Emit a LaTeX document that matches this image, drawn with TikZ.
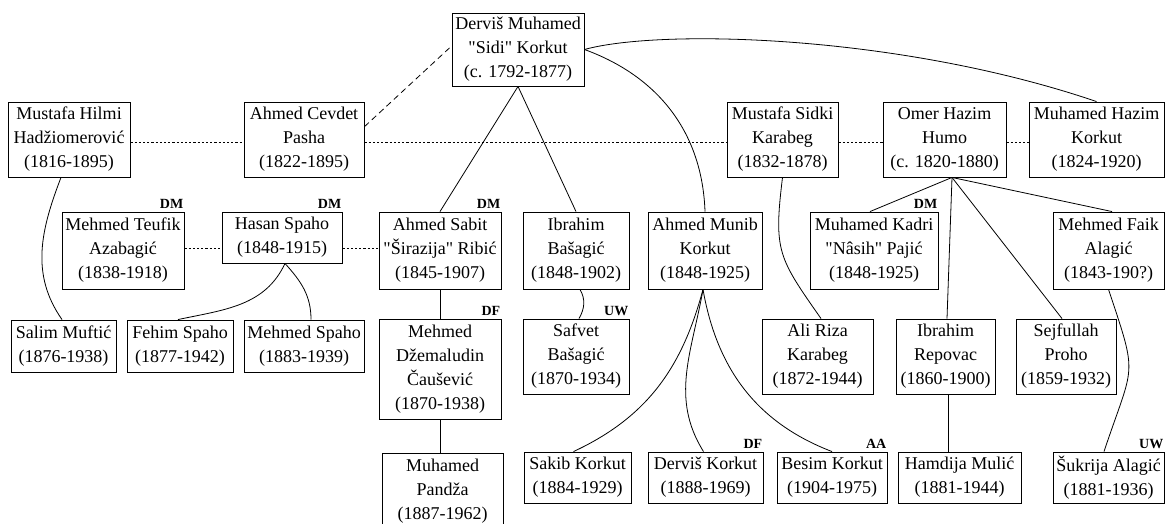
\documentclass[tikz,border=0pt]{standalone}
\usepackage{fontspec}
\setmainfont{Liberation Serif}[Ligatures=TeXOff]
\begin{document}
\begin{tikzpicture}[x=1pt,y=1pt,
  pbox/.style={draw, line width=0.9pt, inner sep=0pt, align=center, font=\fontsize{18}{24}\selectfont},
  tag/.style={inner sep=0pt, anchor=base east, font=\bfseries\fontsize{14}{16}\selectfont},
  link/.style={line width=0.8pt},
  dotline/.style={line width=0.8pt, dash pattern=on 2.2pt off 2pt},
  dashline/.style={line width=0.8pt, dash pattern=on 6pt off 4pt}]
\fill[white] (0,0) rectangle (1166,-523);
\useasboundingbox (0,0) rectangle (1166,-523);

% top
\node[pbox, minimum width=132pt, minimum height=73pt] (dervis) at (518,-49.5) {Derviš Muhamed\\"Sidi" Korkut\\(c. 1792-1877)};
% row 1
\node[pbox, minimum width=122pt, minimum height=75pt] (hilmi) at (69,-139.5) {Mustafa Hilmi\\Hadžiomerović\\(1816-1895)};
\node[pbox, minimum width=120pt, minimum height=75pt] (cevdet) at (304,-139.5) {Ahmed Cevdet\\Pasha\\(1822-1895)};
\node[pbox, minimum width=111pt, minimum height=75pt] (sidki) at (782.5,-139.5) {Mustafa Sidki\\Karabeg\\(1832-1878)};
\node[pbox, minimum width=123pt, minimum height=75pt] (omer) at (944.5,-139.5) {Omer Hazim\\Humo\\(c. 1820-1880)};
\node[pbox, minimum width=135pt, minimum height=75pt] (mhazim) at (1096.5,-139.5) {Muhamed Hazim\\Korkut\\(1824-1920)};
% row 2
\node[pbox, minimum width=122pt, minimum height=77pt] (teufik) at (123,-250.5) {Mehmed Teufik\\Azabagić\\(1838-1918)};
\node[pbox, minimum width=120pt, minimum height=51pt] (hasan) at (282,-237.5) {Hasan Spaho\\(1848-1915)};
\node[pbox, minimum width=122pt, minimum height=77pt] (sabit) at (440,-250.5) {Ahmed Sabit\\"Širazija" Ribić\\(1845-1907)};
\node[pbox, minimum width=106pt, minimum height=77pt] (ibasagic) at (576,-250.5) {Ibrahim\\Bašagić\\(1848-1902)};
\node[pbox, minimum width=114pt, minimum height=77pt] (munib) at (705,-250.5) {Ahmed Munib\\Korkut\\(1848-1925)};
\node[pbox, minimum width=128pt, minimum height=77pt] (kadri) at (874,-250.5) {Muhamed Kadri\\"Nâsih" Pajić\\(1848-1925)};
\node[pbox, minimum width=111pt, minimum height=77pt] (faik) at (1108.5,-250.5) {Mehmed Faik\\Alagić\\(1843-190?)};
% row 3
\node[pbox, minimum width=105pt, minimum height=52pt] (salim) at (63.5,-346) {Salim Muftić\\(1876-1938)};
\node[pbox, minimum width=106pt, minimum height=52pt] (fehim) at (180,-346) {Fehim Spaho\\(1877-1942)};
\node[pbox, minimum width=120pt, minimum height=52pt] (mspaho) at (304,-346) {Mehmed Spaho\\(1883-1939)};
\node[pbox, minimum width=122pt, minimum height=100pt] (dzem) at (440,-369) {Mehmed\\Džemaludin\\Čaušević\\(1870-1938)};
\node[pbox, minimum width=106pt, minimum height=75pt] (safvet) at (576,-356.5) {Safvet\\Bašagić\\(1870-1934)};
\node[pbox, minimum width=111pt, minimum height=75pt] (alir) at (817.5,-356.5) {Ali Riza\\Karabeg\\(1872-1944)};
\node[pbox, minimum width=99pt, minimum height=75pt] (repovac) at (945.5,-356.5) {Ibrahim\\Repovac\\(1860-1900)};
\node[pbox, minimum width=100pt, minimum height=75pt] (sejf) at (1066,-356.5) {Sejfullah\\Proho\\(1859-1932)};
% row 4
\node[pbox, minimum width=121pt, minimum height=77pt] (pandza) at (442.5,-491.5) {Muhamed\\Pandža\\(1887-1962)};
\node[pbox, minimum width=107pt, minimum height=51pt] (sakib) at (577.5,-477.5) {Sakib Korkut\\(1884-1929)};
\node[pbox, minimum width=115pt, minimum height=51pt] (dkorkut) at (705.5,-477.5) {Derviš Korkut\\(1888-1969)};
\node[pbox, minimum width=110pt, minimum height=51pt] (besim) at (832,-477.5) {Besim Korkut\\(1904-1975)};
\node[pbox, minimum width=123pt, minimum height=51pt] (hamdija) at (959.5,-477.5) {Hamdija Mulić\\(1881-1944)};
\node[pbox, minimum width=111pt, minimum height=51pt] (sukrija) at (1108.5,-477.5) {Šukrija Alagić\\(1881-1936)};

% tags
\node[tag] (t1) at ([shift={(-1,3)}]teufik.north east) {DM};
\node[tag] (t2) at ([shift={(-1,3)}]hasan.north east) {DM};
\node[tag] (t3) at ([shift={(-1,3)}]sabit.north east) {DM};
\node[tag] (t4) at ([shift={(-1,3)}]kadri.north east) {DM};
\node[tag] (t5) at ([shift={(-1,3)}]dzem.north east) {DF};
\node[tag] (t6) at ([shift={(-1,3)}]safvet.north east) {UW};
\node[tag] (t7) at ([shift={(-1,3)}]dkorkut.north east) {DF};
\node[tag] (t8) at ([shift={(-1,3)}]besim.north east) {AA};
\node[tag] (t9) at ([shift={(-1,3)}]sukrija.north east) {UW};

% marriage / relation lines
\draw[dashline] (cevdet.12) -- (dervis.177);
\draw[dotline] ([yshift=-3pt]hilmi.east) -- ([yshift=-3pt]cevdet.west);
\draw[dotline] ([yshift=-3pt]cevdet.east) -- ([yshift=-3pt]sidki.west);
\draw[dotline] ([yshift=-3pt]sidki.east) -- ([yshift=-3pt]omer.west);
\draw[dotline] ([yshift=-3pt]omer.east) -- ([yshift=-3pt]mhazim.west);
\coordinate (r2) at ([yshift=2pt]teufik.east);
\draw[dotline] (r2) -- (r2 -| hasan.west);
\draw[dotline] (r2 -| hasan.east) -- (r2 -| sabit.west);

% teacher lines
\draw[link] (dervis.south) -- (sabit.north);
\draw[link] (dervis.south) -- (ibasagic.north);
\draw[link] (dervis.east) to[out=-20,in=92] (munib.north);
\draw[link] (dervis.east) .. controls +(76,21) and +(-197,67) .. (mhazim.north);

\draw[link] ([xshift=-8pt]hilmi.south) to[out=-111,in=125] ([xshift=-1.5pt]salim.north);
\coordinate (hs) at ([xshift=3pt]hasan.south);
\draw[link] (hs) to[out=-115,in=12] ([xshift=-2pt]fehim.north);
\draw[link] (hs) to[out=-48,in=90] ([xshift=7pt]mspaho.north);

\draw[link] (sabit.south) -- (dzem.north);
\draw[link] (dzem.south) -- (dzem.south |- pandza.north);

\draw[link] ([xshift=4pt]ibasagic.south) to[out=-60,in=60] ([xshift=3pt]safvet.north);

\draw[link] ([xshift=-2pt]munib.south) to[out=-105,in=25] ([xshift=-4pt]sakib.north);
\draw[link] ([xshift=-2pt]munib.south) to[out=-100,in=122] ([xshift=-2pt]dkorkut.north);
\draw[link] ([xshift=-2pt]munib.south) to[out=-80,in=159] (besim.north);

\draw[link] (sidki.south) to[out=-97,in=125,looseness=1.3] ([xshift=3.5pt]alir.north);

\coordinate (os) at ([xshift=7.5pt]omer.south);
\draw[link] (os) -- ([xshift=-4pt]kadri.north);
\draw[link] (os) -- ([xshift=1.5pt]repovac.north);
\draw[link] (os) -- ([xshift=-4pt]sejf.north);
\draw[link] (os) -- ([xshift=3.5pt]faik.north);

\draw[link] (faik.south) .. controls +(30,-90) and +(30,90) .. ([xshift=-4.5pt]sukrija.north);

\coordinate (rp) at ([xshift=2.5pt]repovac.south);
\draw[link] (rp) -- (rp |- hamdija.north);
\end{tikzpicture}
\end{document}
